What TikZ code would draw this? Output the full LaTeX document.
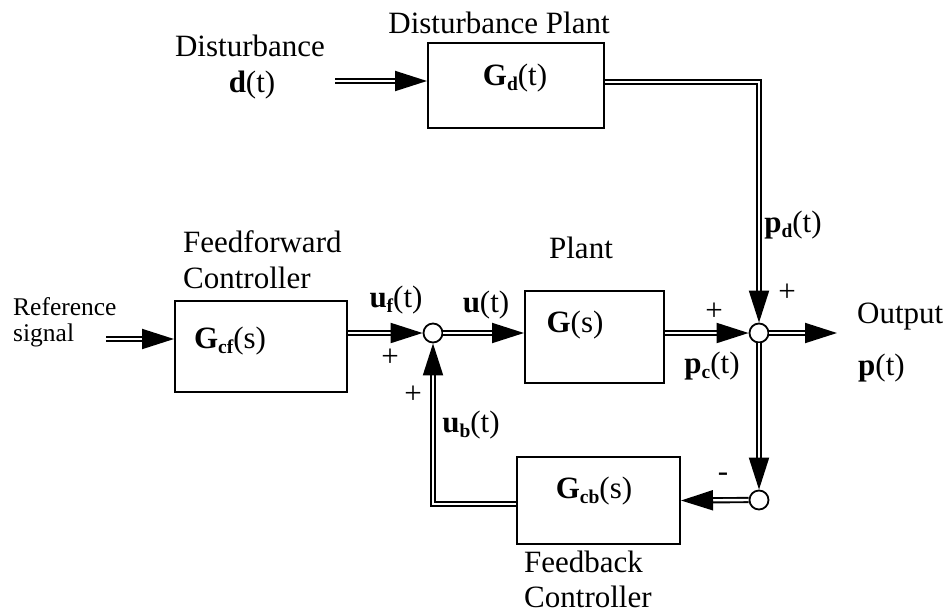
\documentclass[tikz,border=0pt]{standalone}
\usepackage{fontspec}
\setmainfont{Liberation Serif}
\usetikzlibrary{arrows.meta}
\newcommand\sbs[1]{\raisebox{-0.18em}{\fontsize{19.5}{19.5}\selectfont\bfseries #1}}
\begin{document}
\begin{tikzpicture}[x=1pt,y=-1pt,
  box/.style={draw, line width=2pt, inner sep=0pt},
  jn/.style={circle, draw, line width=1.8pt, fill=white, minimum size=19pt, inner sep=0pt},
  dbl/.style={double, double distance=2.4pt, line width=1.9pt},
  arr/.style={dbl, -{Triangle[length=32pt,width=20pt]}},
  lbl/.style={font=\fontsize{31}{36}\selectfont, inner sep=0pt, anchor=base},
  lblw/.style={lbl, anchor=base west},
  small/.style={font=\fontsize{25.5}{28}\selectfont, inner sep=0pt, anchor=base west},
]
\useasboundingbox (0,0) rectangle (950,614);

% blocks
\node[box, minimum width=176pt, minimum height=85pt] (gd) at (516,85.5) {};
\node[box, minimum width=172pt, minimum height=91pt] (gcf) at (261,346.5) {};
\node[box, minimum width=139pt, minimum height=92pt] (plant) at (594.5,337) {};
\node[box, minimum width=163pt, minimum height=87pt] (gcb) at (598.5,500.5) {};

% junctions
\node[jn] (s1) at (433,333) {};
\node[jn] (s2) at (759,333) {};
\node[jn] (s3) at (759,500) {};

% free ends
\coordinate (din) at (335,81);
\coordinate (refin) at (106,339);
\coordinate (pout) at (837,333);

% connectors
\draw[arr] (din) -- ([yshift=4.5pt]gd.west);
\draw[arr] ([yshift=3.5pt]gd.east) -| (s2.north);
\draw[arr] (refin) -- ([yshift=7.5pt]gcf.west);
\draw[arr] ([yshift=13.5pt]gcf.east) -- (s1.west);
\draw[arr] (s1.east) -- ([yshift=4pt]plant.west);
\draw[arr] ([yshift=4pt]plant.east) -- (s2.west);
\draw[arr] (s2.east) -- (pout);
\draw[arr] (s2.south) -- (s3.north);
\draw[arr] (s3.west) -- (gcb.east);
\draw[arr] ([yshift=-3.5pt]gcb.west) -| (s1.south);

% texts
\node[lbl] (tdp) at (499,33) {Disturbance Plant};
\node[lbl] (tdist) at (250,56) {Disturbance};
\node[lbl] (tdt) at (252,92) {\textbf{d}(t)};
\node[lbl] (tgd) at (515,85) {\textbf{G}\sbs{d}(t)};
\node[small] (tref) at (13,315) {Reference};
\node[small] (tsig) at (13,341) {signal};
\node[lblw] (tff) at (183,252) {Feedforward};
\node[lblw] (tffc) at (183,288) {Controller};
\node[lbl] (tgcf) at (230,348) {\textbf{G}\sbs{cf}(s)};
\node[lbl] (tuf) at (396,307) {\textbf{u}\sbs{f}(t)};
\node[lbl] (tu) at (486,312) {\textbf{u}(t)};
\node[lbl] (tplant) at (581,258) {Plant};
\node[lbl] (tg) at (575,332) {\textbf{G}(s)};
\node[lbl] (p1) at (390,366) {+};
\node[lbl] (p2) at (413,403) {+};
\node[lbl] (tub) at (471,432) {\textbf{u}\sbs{b}(t)};
\node[lbl] (p3) at (714,320) {+};
\node[lbl] (tpc) at (712,373) {\textbf{p}\sbs{c}(t)};
\node[lbl] (p4) at (787,301) {+};
\node[lblw] (tout) at (857,323) {Output};
\node[lblw] (tp) at (858,375) {\textbf{p}(t)};
\node[lbl] (tpd) at (793,232) {\textbf{p}\sbs{d}(t)};
\node[lbl] (mn) at (723,481) {-};
\node[lbl] (tgcb) at (594,498) {\textbf{G}\sbs{cb}(s)};
\node[lblw] (tfb) at (524,572) {Feedback};
\node[lblw] (tfbc) at (524,607) {Controller};
\end{tikzpicture}
\end{document}
